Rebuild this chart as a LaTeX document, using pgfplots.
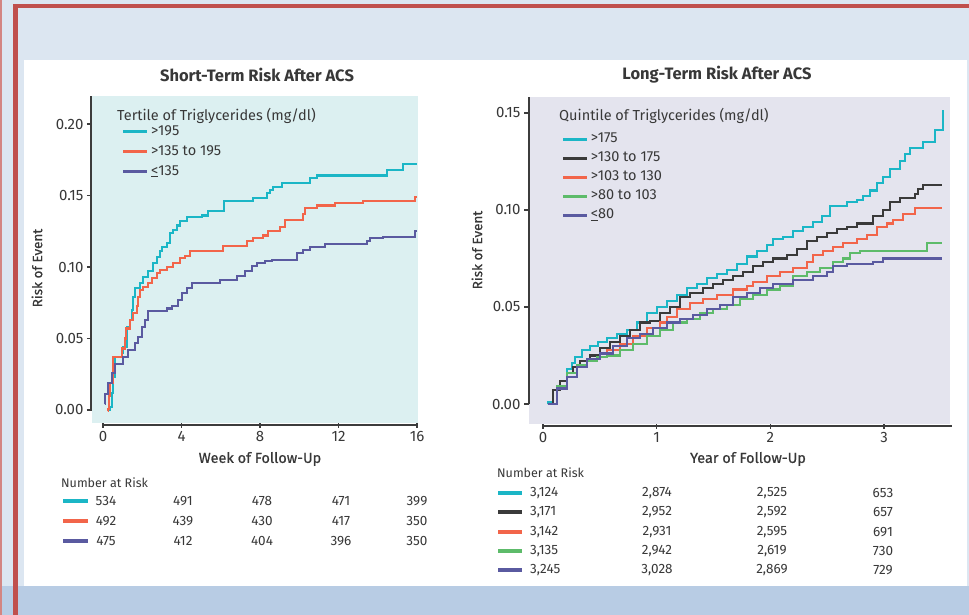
\documentclass[border=0pt]{standalone}
\usepackage{pgfplots}
\pgfplotsset{compat=1.18}
\usepackage{fontspec}
\setmainfont{Fira Sans}
\newfontfamily\medfont{Fira Sans}[FakeBold=0.6]
\definecolor{cyanL}{HTML}{1BB6C6}
\definecolor{orangeL}{HTML}{F2654A}
\definecolor{purpleL}{HTML}{5A5AA0}
\definecolor{blackL}{HTML}{3A3A3A}
\definecolor{greenL}{HTML}{5DBB6A}
\definecolor{bgL}{HTML}{DCF0F1}
\definecolor{bgR}{HTML}{E4E4EE}
\definecolor{pageL}{HTML}{DCE6F1}
\definecolor{band}{HTML}{B8CCE4}
\definecolor{redB}{HTML}{C0504D}
\definecolor{txt}{HTML}{383838}
\definecolor{axisc}{HTML}{3C3C3C}
\newcommand{\fs}[1]{\fontsize{#1}{#1}\selectfont}
\pgfplotsset{
  km/.style={
    scale only axis, anchor=south west,
    axis line style={draw=none},
    tick pos=left, tick align=outside,
    major tick length=5pt,
    tick style={line width=1.4pt, color=axisc},
    ticklabel style={font=\fs{15}, text=txt},
    /pgf/number format/assume math mode=true,
    clip=false,
    legend cell align=left,
    legend image code/.code={\draw[##1, line width=3.6pt] (0pt,0pt) -- (24pt,0pt);},
    every axis plot/.append style={line width=2.1pt, const plot},
  }
}
\tikzset{axl/.style={line width=1.8pt, color=axisc}}
\begin{document}
\begin{tikzpicture}[x=1pt,y=1pt]
\useasboundingbox (0,0) rectangle (969,615);
% page background and frame
\fill[pageL] (0,0) rectangle (969,615);
\fill[band] (0,0) rectangle (969,29);
\fill[white] (24,29) rectangle (967,555);
\fill[redB] (13,0) rectangle (18,611);
\fill[redB] (13,607) rectangle (969,611);
\fill[redB!70] (0,0) rectangle (2,615);

% ---------------- Left panel ----------------
\begin{axis}[km, at={(92pt,192pt)}, width=326pt, height=327pt,
  xmin=-0.56, xmax=16.05, ymin=-0.0091, ymax=0.2196,
  axis background/.style={fill=bgL},
  xtick={0,4,8,12,16},
  ytick={0,0.05,0.10,0.15,0.20},
  yticklabel style={/pgf/number format/.cd, fixed, fixed zerofill, precision=2},
  legend style={at={(0.090,0.918)}, anchor=north west, draw=none, fill=none,
    font=\fs{14.5}, text=txt, row sep=3pt, inner sep=0pt,
    nodes={inner sep=2pt, text height=10pt, text depth=3pt}},
]
\addplot[cyanL] coordinates {(0.30,0) (0.36,0.002) (0.45,0.012) (0.53,0.023) (0.61,0.037) (0.95,0.040) (1.04,0.044) (1.21,0.058) (1.38,0.063) (1.46,0.070) (1.55,0.079) (1.63,0.085) (1.89,0.089) (2.06,0.093) (2.31,0.097) (2.56,0.103) (2.73,0.107) (2.90,0.111) (2.99,0.114) (3.24,0.117) (3.41,0.124) (3.58,0.126) (3.75,0.129) (3.92,0.132) (4.26,0.135) (5.03,0.136) (5.37,0.139) (6.18,0.146) (7.66,0.148) (8.34,0.152) (8.51,0.154) (8.68,0.156) (9.10,0.159) (10.55,0.162) (10.89,0.164) (14.45,0.168) (15.30,0.172) (16.0,0.172)};
\addlegendentry{>195}
\addplot[orangeL] coordinates {(0.25,-0.001) (0.27,0.001) (0.32,0.010) (0.36,0.019) (0.53,0.037) (0.95,0.043) (1.12,0.050) (1.17,0.057) (1.38,0.063) (1.51,0.068) (1.72,0.073) (1.80,0.079) (1.89,0.084) (2.06,0.086) (2.31,0.089) (2.48,0.092) (2.73,0.096) (2.90,0.098) (3.24,0.100) (3.58,0.103) (3.92,0.106) (4.18,0.108) (4.43,0.111) (6.13,0.115) (7.32,0.118) (7.66,0.120) (8.17,0.122) (8.42,0.125) (9.02,0.128) (9.27,0.133) (10.21,0.137) (10.29,0.141) (10.89,0.143) (11.82,0.145) (13.27,0.146) (15.90,0.149) (16.0,0.149)};
\addlegendentry{>135 to 195}
\addplot[purpleL] coordinates {(0.10,0.004) (0.12,0.011) (0.27,0.019) (0.45,0.026) (0.61,0.032) (1.04,0.037) (1.29,0.042) (1.63,0.047) (1.80,0.051) (1.97,0.058) (2.14,0.063) (2.31,0.069) (3.24,0.071) (3.50,0.073) (3.84,0.077) (4.01,0.082) (4.26,0.085) (4.52,0.089) (5.96,0.091) (6.81,0.094) (7.24,0.097) (7.58,0.101) (7.83,0.103) (8.25,0.104) (8.59,0.105) (9.87,0.110) (10.21,0.112) (10.55,0.114) (11.31,0.116) (13.44,0.118) (13.61,0.120) (14.28,0.121) (15.90,0.125) (16.0,0.125)};
\addlegendentry{\underline{<}135}
\draw[axl] ([yshift=-2pt]axis cs:0,-0.0091) -- ([yshift=-2pt]axis cs:16,-0.0091);
\draw[axl] ([xshift=-1pt]axis cs:-0.56,0) -- ([xshift=-1pt]axis cs:-0.56,0.2196);
\end{axis}

% ---------------- Right panel ----------------
\begin{axis}[km, at={(529pt,191pt)}, width=421pt, height=327pt,
  xmin=-0.123, xmax=3.58, ymin=-0.0103, ymax=0.1582,
  axis background/.style={fill=bgR},
  xtick={0,1,2,3},
  ytick={0,0.05,0.10,0.15},
  yticklabel style={/pgf/number format/.cd, fixed, fixed zerofill, precision=2},
  legend style={at={(0.076,0.897)}, anchor=north west, draw=none, fill=none,
    font=\fs{14.5}, text=txt, row sep=2pt, inner sep=0pt,
    nodes={inner sep=2pt, text height=10pt, text depth=3pt}},
]
\addplot[cyanL] coordinates {(0.04,0) (0.047,0.001) (0.091,0.007) (0.15,0.012) (0.208,0.018) (0.252,0.021) (0.281,0.024) (0.34,0.028) (0.413,0.030) (0.487,0.032) (0.56,0.034) (0.648,0.036) (0.736,0.038) (0.824,0.042) (0.912,0.047) (1.0,0.050) (1.088,0.053) (1.176,0.056) (1.264,0.060) (1.352,0.062) (1.44,0.065) (1.527,0.067) (1.615,0.069) (1.703,0.072) (1.791,0.076) (1.879,0.079) (1.967,0.082) (2.026,0.085) (2.114,0.086) (2.202,0.089) (2.29,0.091) (2.378,0.094) (2.451,0.097) (2.524,0.102) (2.671,0.104) (2.759,0.105) (2.817,0.107) (2.876,0.110) (2.935,0.114) (2.993,0.117) (3.052,0.121) (3.14,0.125) (3.184,0.129) (3.228,0.132) (3.345,0.135) (3.448,0.141) (3.521,0.151) (3.527,0.151)};
\addlegendentry{>175}
\addplot[blackL] coordinates {(0.04,0) (0.047,0.000) (0.091,0.007) (0.15,0.012) (0.208,0.016) (0.267,0.019) (0.325,0.022) (0.413,0.025) (0.501,0.029) (0.589,0.032) (0.677,0.035) (0.765,0.038) (0.853,0.042) (0.941,0.043) (1.029,0.047) (1.117,0.050) (1.205,0.055) (1.293,0.057) (1.41,0.060) (1.498,0.062) (1.586,0.064) (1.674,0.066) (1.762,0.068) (1.85,0.071) (1.938,0.073) (2.026,0.075) (2.143,0.077) (2.231,0.080) (2.319,0.084) (2.407,0.086) (2.495,0.088) (2.583,0.090) (2.671,0.091) (2.759,0.093) (2.905,0.097) (2.993,0.100) (3.052,0.104) (3.14,0.106) (3.272,0.108) (3.301,0.111) (3.345,0.113) (3.507,0.113)};
\addlegendentry{>130 to 175}
\addplot[orangeL] coordinates {(0.04,0) (0.047,0.000) (0.12,0.009) (0.208,0.016) (0.296,0.020) (0.384,0.023) (0.472,0.024) (0.56,0.028) (0.677,0.031) (0.794,0.035) (0.912,0.039) (1.029,0.042) (1.088,0.045) (1.176,0.049) (1.293,0.052) (1.41,0.054) (1.527,0.056) (1.674,0.059) (1.791,0.061) (1.85,0.063) (1.967,0.066) (2.085,0.068) (2.202,0.070) (2.319,0.073) (2.378,0.077) (2.466,0.079) (2.554,0.081) (2.642,0.083) (2.759,0.085) (2.847,0.087) (2.935,0.091) (3.023,0.093) (3.081,0.095) (3.169,0.098) (3.272,0.101) (3.507,0.101)};
\addlegendentry{>103 to 130}
\addplot[greenL] coordinates {(0.04,0) (0.047,0.000) (0.12,0.009) (0.208,0.016) (0.296,0.020) (0.384,0.022) (0.472,0.024) (0.56,0.025) (0.677,0.028) (0.794,0.031) (0.912,0.035) (1.029,0.038) (1.146,0.042) (1.264,0.044) (1.381,0.047) (1.498,0.049) (1.615,0.051) (1.733,0.054) (1.85,0.056) (1.967,0.059) (2.085,0.061) (2.202,0.066) (2.319,0.068) (2.436,0.070) (2.554,0.073) (2.642,0.075) (2.7,0.078) (2.788,0.079) (3.374,0.083) (3.507,0.083)};
\addlegendentry{>80 to 103}
\addplot[purpleL] coordinates {(0.04,0) (0.047,0.000) (0.12,0.008) (0.208,0.014) (0.296,0.019) (0.384,0.023) (0.501,0.026) (0.618,0.030) (0.736,0.034) (0.853,0.036) (0.971,0.039) (1.088,0.042) (1.205,0.044) (1.322,0.046) (1.44,0.049) (1.557,0.051) (1.674,0.055) (1.791,0.057) (1.908,0.060) (2.026,0.062) (2.202,0.064) (2.378,0.066) (2.495,0.068) (2.554,0.071) (2.671,0.072) (2.905,0.073) (2.993,0.075) (3.507,0.075)};
\addlegendentry{\underline{<}80}
\draw[axl] ([yshift=-2pt]axis cs:0,-0.0103) -- ([yshift=-2pt]axis cs:3.6,-0.0103);
\draw[axl] (axis cs:-0.123,0) -- (axis cs:-0.123,0.1582);
\end{axis}

% titles and labels
\node[font=\bfseries\fs{16.5}, text=txt] at (257,540) {Short-Term Risk After ACS};
\node[font=\bfseries\fs{16.5}, text=txt] at (717,540) {Long-Term Risk After ACS};
\node[font=\medfont\fs{14.5}, text=txt] at (260,156) {Week of Follow-Up};
\node[font=\medfont\fs{14.5}, text=txt] at (748,156) {Year of Follow-Up};
\node[font=\medfont\fs{13.5}, text=txt, rotate=90] at (37,347) {Risk of Event};
\node[font=\medfont\fs{13.5}, text=txt, rotate=90] at (477,365) {Risk of Event};
\node[font=\fs{14.5}, text=txt, anchor=west, inner sep=0pt] at (117,499) {Tertile of Triglycerides (mg/dl)};
\node[font=\fs{14.5}, text=txt, anchor=west, inner sep=0pt] at (559,499) {Quintile of Triglycerides (mg/dl)};

% number at risk, left
\begin{scope}[every node/.style={font=\fs{13.5}, text=txt, inner sep=0pt}]
\node[anchor=west, font=\fs{12.5}] at (61,132) {Number at Risk};
\draw[cyanL, line width=3.6pt] (63,114) -- (88,114);
\draw[orangeL, line width=3.6pt] (63,94) -- (88,94);
\draw[purpleL, line width=3.6pt] (63,74) -- (88,74);
\node at (106,114) {534}; \node at (183,114) {491}; \node at (262,114) {478}; \node at (341,114) {471}; \node at (417,114) {399};
\node at (106,94) {492}; \node at (183,94) {439}; \node at (262,94) {430}; \node at (341,94) {417}; \node at (417,94) {350};
\node at (106,74) {475}; \node at (183,74) {412}; \node at (262,74) {404}; \node at (341,74) {396}; \node at (417,74) {350};
% right
\node[anchor=west, font=\fs{12.5}] at (497,142) {Number at Risk};
\draw[cyanL, line width=3.6pt] (498,122) -- (522,122);
\draw[blackL, line width=3.6pt] (498,103) -- (522,103);
\draw[orangeL, line width=3.6pt] (498,83) -- (522,83);
\draw[greenL, line width=3.6pt] (498,64) -- (522,64);
\draw[purpleL, line width=3.6pt] (498,45) -- (522,45);
\node[anchor=west] at (530,122) {3,124}; \node at (657,122) {2,874}; \node at (772,122) {2,525}; \node at (883,122) {653};
\node[anchor=west] at (530,103) {3,171}; \node at (657,103) {2,952}; \node at (772,103) {2,592}; \node at (883,103) {657};
\node[anchor=west] at (530,83) {3,142}; \node at (657,83) {2,931}; \node at (772,83) {2,595}; \node at (883,83) {691};
\node[anchor=west] at (530,64) {3,135}; \node at (657,64) {2,942}; \node at (772,64) {2,619}; \node at (883,64) {730};
\node[anchor=west] at (530,45) {3,245}; \node at (657,45) {3,028}; \node at (772,45) {2,869}; \node at (883,45) {729};
\end{scope}
\end{tikzpicture}
\end{document}
